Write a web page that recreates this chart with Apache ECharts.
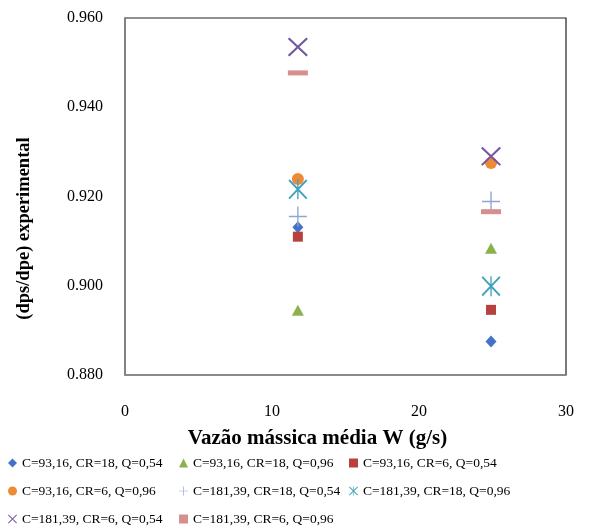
<!DOCTYPE html>
<html>
<head>
<meta charset="utf-8">
<script src="https://cdn.jsdelivr.net/npm/echarts@6/dist/echarts.min.js"></script>
<style>
  html, body { margin: 0; padding: 0; background: #fff; }
  #chart { width: 614px; height: 531px; }
</style>
</head>
<body>
<div id="chart"></div>
<script>
// Mean mass flow W (g/s) for the two test conditions
const flowW = [11.76, 24.9];

// Measured (dps/dpe) per configuration
const seriesNames = [
  'C=93,16, CR=18, Q=0,54',
  'C=93,16, CR=18, Q=0,96',
  'C=93,16, CR=6, Q=0,54',
  'C=93,16, CR=6, Q=0,96',
  'C=181,39, CR=18, Q=0,54',
  'C=181,39, CR=18, Q=0,96',
  'C=181,39, CR=6, Q=0,54',
  'C=181,39, CR=6, Q=0,96'
];
const c93cr18q54 = [0.9131, 0.8875];
const c93cr18q96 = [0.8945, 0.9084];
const c93cr6q54 = [0.9110, 0.8946];
const c93cr6q96 = [0.9239, 0.9275];
const c181cr18q54 = [0.9155, 0.9189];
const c181cr18q96 = [0.9216, 0.8999];
const c181cr6q54 = [0.9535, 0.9290];
const c181cr6q96 = [0.9477, 0.9166];
const seriesValues = [c93cr18q54, c93cr18q96, c93cr6q54, c93cr6q96,
                      c181cr18q54, c181cr18q96, c181cr6q54, c181cr6q96];

// Axis ticks
const xTicks = [0, 10, 20, 30];
const yTicks = [0.880, 0.900, 0.920, 0.940, 0.960];

// Marker shapes (outlined glyphs drawn as thin filled paths)
const plusPath = 'path://M9.25,0 H10.75 V9.25 H20 V10.75 H10.75 V20 H9.25 V10.75 H0 V9.25 H9.25 Z';
const crossPath = 'path://M0,1.5 L1.5,0 L20,18.5 L18.5,20 Z M18.5,0 L20,1.5 L1.5,20 L0,18.5 Z';
const starPath = 'path://M0,1.4 L1.4,0 L20,18.6 L18.6,20 Z M18.6,0 L20,1.4 L1.4,20 L0,18.6 Z M9.3,0 H10.7 V20 H9.3 Z';

const styles = [
  { color: '#4472C4', symbol: 'diamond', size: [11, 12], icon: 'diamond' },
  { color: '#8DB04F', symbol: 'triangle', size: [12, 11], icon: 'triangle' },
  { color: '#B7413E', symbol: 'rect', size: [10, 10], icon: 'rect' },
  { color: '#EE8A36', symbol: 'circle', size: [12, 12], icon: 'circle' },
  { color: '#8EA6D2', symbol: plusPath, size: [18, 20], icon: plusPath },
  { color: '#3FA3BD', symbol: starPath, size: [19, 20], icon: starPath },
  { color: '#7556A0', symbol: crossPath, size: [20, 19], icon: crossPath },
  { color: '#D78E8E', symbol: 'rect', size: [20, 5], icon: 'rect' }
];

const series = seriesNames.map((name, i) => ({
  name: name,
  type: 'scatter',
  symbol: styles[i].symbol,
  symbolSize: styles[i].size,
  itemStyle: { color: styles[i].color, opacity: 1 },
  data: flowW.map((w, k) => [w, seriesValues[i][k]]),
  z: 3 + i
}));

function legendColumn(idx, left) {
  return {
    orient: 'vertical',
    left: left,
    top: 455,
    itemWidth: 9,
    itemHeight: 9,
    itemGap: 12,
    padding: 0,
    textStyle: { fontFamily: 'Liberation Serif', fontSize: 13.5, color: '#000', lineHeight: 16 },
    data: idx.map(i => ({
      name: seriesNames[i],
      icon: styles[i].icon,
      itemStyle: { color: styles[i].color }
    }))
  };
}

const chart = echarts.init(document.getElementById('chart'));
chart.setOption({
  animation: false,
  backgroundColor: '#fff',
  grid: {
    left: 125, top: 18, right: 48, bottom: 156,
    show: true, borderColor: '#222', borderWidth: 1.2, backgroundColor: 'transparent'
  },
  xAxis: {
    type: 'value',
    min: xTicks[0], max: xTicks[xTicks.length - 1], interval: 10,
    name: 'Vazão mássica média W (g/s)',
    nameLocation: 'middle',
    nameGap: 53,
    nameTextStyle: { fontFamily: 'Liberation Serif', fontSize: 21, fontWeight: 'bold', color: '#000', padding: [0, 56, 0, 0] },
    axisLine: { show: true, lineStyle: { color: '#868686', width: 1.5 } },
    axisTick: { show: false },
    splitLine: { show: false },
    axisLabel: { margin: 29, fontFamily: 'Liberation Serif', fontSize: 16, color: '#000' }
  },
  yAxis: {
    type: 'value',
    min: yTicks[0], max: yTicks[yTicks.length - 1], interval: 0.02,
    name: '(dps/dpe) experimental',
    nameLocation: 'middle',
    nameGap: 91,
    nameTextStyle: { fontFamily: 'Liberation Serif', fontSize: 18.5, fontWeight: 'bold', color: '#000', padding: [0, 64, 0, 0] },
    axisLine: { show: true, lineStyle: { color: '#868686', width: 1.5 } },
    axisTick: { show: false },
    splitLine: { show: false },
    axisLabel: {
      margin: 22, fontFamily: 'Liberation Serif', fontSize: 16, color: '#000',
      formatter: v => v.toFixed(3)
    }
  },
  legend: [
    legendColumn([0, 3, 6], 8),
    legendColumn([1, 4, 7], 179),
    legendColumn([2, 5], 349)
  ],
  series: series
});
</script>
</body>
</html>
